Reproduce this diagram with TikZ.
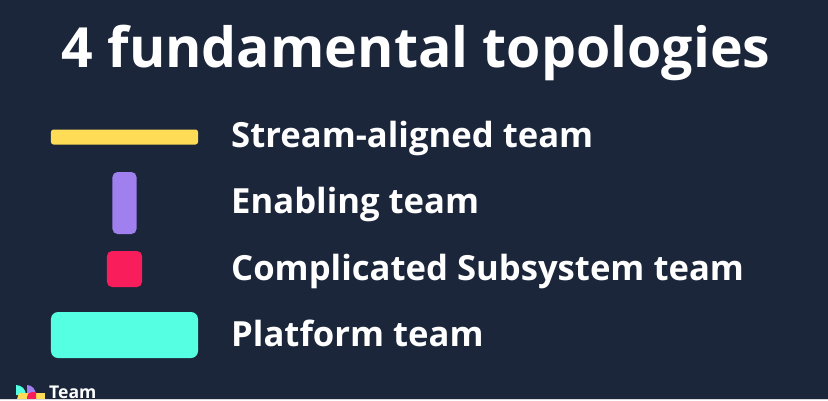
\documentclass[tikz,border=0pt]{standalone}
\usepackage{fontspec}
\setmainfont{Open Sans}
\definecolor{bgnavy}{HTML}{1B263B}
\definecolor{streamyellow}{HTML}{FFDC55}
\definecolor{enablingpurple}{HTML}{A080EE}
\definecolor{subsystemred}{HTML}{FA1D5C}
\definecolor{platformcyan}{HTML}{55FFE2}
\definecolor{edgegrey}{HTML}{D8DADF}
\tikzset{
    teamlabel/.style={anchor=base west, inner sep=0pt, text=white, font=\fontsize{9.86pt}{12pt}\bfseries},
    teambar/.style={inner sep=0pt, rounded corners=#1},
    teambar/.default=0.025cm
}
\begin{document}
\begin{tikzpicture}
    \fill[bgnavy] (0,0) rectangle (8.28,4);
    \useasboundingbox (0,0) rectangle (8.28,4);
    \node[anchor=base, inner sep=0pt, text=white, font=\fontsize{15.77pt}{20pt}\bfseries] (title) at (4.16,3.33) {4 fundamental topologies};
    % team shapes
    \node[teambar, fill=streamyellow, minimum width=1.47cm, minimum height=0.15cm] (stream) at (1.245,2.63) {};
    \node[teambar=0.05cm, fill=enablingpurple, minimum width=0.24cm, minimum height=0.62cm] (enabling) at (1.245,1.97) {};
    \node[teambar=0.05cm, fill=subsystemred, minimum width=0.35cm, minimum height=0.36cm] (subsystem) at (1.245,1.31) {};
    \node[teambar=0.07cm, fill=platformcyan, minimum width=1.47cm, minimum height=0.46cm] (platform) at (1.245,0.65) {};
    % labels
    \node[teamlabel] (streamlabel) at (2.305,2.53) {Stream-aligned team};
    \node[teamlabel] (enablinglabel) at (2.305,1.87) {Enabling team};
    \node[teamlabel] (subsystemlabel) at (2.305,1.20) {Complicated Subsystem team};
    \node[teamlabel] (platformlabel) at (2.305,0.54) {Platform team};
    % logo, cut off by the lower edge
    \fill[platformcyan] (0.16,0.05) -- (0.16,0.15) arc (90:0:0.1 and 0.1) -- (0.26,0.05) -- cycle;
    \fill[enablingpurple] (0.27,0.05) -- (0.27,0.15) arc (90:0:0.09 and 0.1) -- (0.36,0.05) -- cycle;
    \fill[streamyellow] (0.17,0.01) -- (0.19,0.07) -- (0.36,0.07) -- (0.36,0.01) -- cycle;
    \fill[streamyellow] (0.36,0.01) rectangle (0.45,0.07);
    \fill[subsystemred] (0.27,0.01) -- (0.27,0.03) arc (180:90:0.05) -- (0.36,0.08) -- (0.36,0.01) -- cycle;
    \node[anchor=base west, inner sep=0pt, text=white, font=\fontsize{5pt}{6pt}\bfseries] (logotext) at (0.485,0.02) {Team};
    \fill[edgegrey] (0,0) rectangle (8.28,0.012);
\end{tikzpicture}
\end{document}
